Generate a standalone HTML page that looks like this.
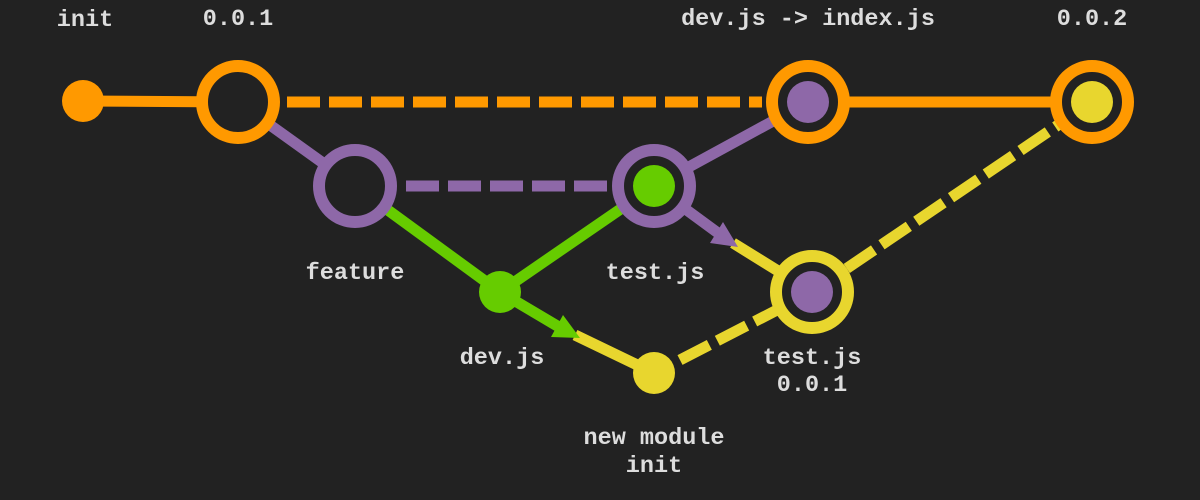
<!DOCTYPE html>
<html><head><style>
html,body{margin:0;padding:0;background:#222222;}
svg{display:block}
text{font-family:"Liberation Mono",monospace;font-weight:bold;font-size:23.5px;fill:#dddddd;text-anchor:middle}
</style></head><body>
<svg width="1200" height="500" viewBox="0 0 1200 500">
<rect width="1200" height="500" fill="#222222"/>
<g stroke-width="11" fill="none">
<line x1="83" y1="101" x2="238" y2="102" stroke="#ff9900"/>
<line x1="287" y1="102" x2="762" y2="102" stroke="#ff9900" stroke-dasharray="33 9"/>
<line x1="808" y1="102" x2="1092" y2="102" stroke="#ff9900"/>
<line x1="238" y1="102" x2="355" y2="186" stroke="#8e68a8"/>
<line x1="406" y1="186" x2="610" y2="186" stroke="#8e68a8" stroke-dasharray="33 9"/>
<line x1="654" y1="186" x2="808" y2="102" stroke="#8e68a8"/>
<line x1="355" y1="186" x2="500" y2="292" stroke="#66cc00"/>
<line x1="500" y1="292" x2="654" y2="186" stroke="#66cc00"/>
<line x1="500" y1="292" x2="559" y2="327" stroke="#66cc00"/>
<line x1="575" y1="335" x2="654" y2="373" stroke="#e8d62e"/>
<line x1="654" y1="186" x2="718" y2="233" stroke="#8e68a8"/>
<line x1="733" y1="243" x2="812" y2="292" stroke="#e8d62e"/>
<line x1="680" y1="360" x2="812" y2="292" stroke="#e8d62e" stroke-dasharray="33 9"/>
<line x1="812" y1="292" x2="1092" y2="102" stroke="#e8d62e" stroke-dasharray="33 9"/>
</g>
<polygon points="580,338 551,337 563,315" fill="#66cc00"/>
<polygon points="738,247 710,243 723,222" fill="#8e68a8"/>
<circle cx="83" cy="101" r="21" fill="#ff9900"/>
<circle cx="238" cy="102" r="36" fill="#222" stroke="#ff9900" stroke-width="12"/>
<circle cx="808" cy="102" r="36" fill="#222" stroke="#ff9900" stroke-width="12"/>
<circle cx="808" cy="102" r="21" fill="#8e68a8"/>
<circle cx="1092" cy="102" r="36" fill="#222" stroke="#ff9900" stroke-width="12"/>
<circle cx="1092" cy="102" r="21" fill="#e8d62e"/>
<circle cx="355" cy="186" r="36" fill="#222" stroke="#8e68a8" stroke-width="12"/>
<circle cx="654" cy="186" r="36" fill="#222" stroke="#8e68a8" stroke-width="12"/>
<circle cx="654" cy="186" r="21" fill="#66cc00"/>
<circle cx="500" cy="292" r="21" fill="#66cc00"/>
<circle cx="654" cy="373" r="21" fill="#e8d62e"/>
<circle cx="812" cy="292" r="36" fill="#222" stroke="#e8d62e" stroke-width="12"/>
<circle cx="812" cy="292" r="21" fill="#8e68a8"/>
<text x="85" y="26">init</text>
<text x="238" y="25">0.0.1</text>
<text x="808" y="25">dev.js -&gt; index.js</text>
<text x="1092" y="25">0.0.2</text>
<text x="355" y="279">feature</text>
<text x="655" y="279">test.js</text>
<text x="502" y="364">dev.js</text>
<text x="812" y="364">test.js</text>
<text x="812" y="391">0.0.1</text>
<text x="654" y="444">new module</text>
<text x="654" y="472">init</text>
</svg>
</body></html>
